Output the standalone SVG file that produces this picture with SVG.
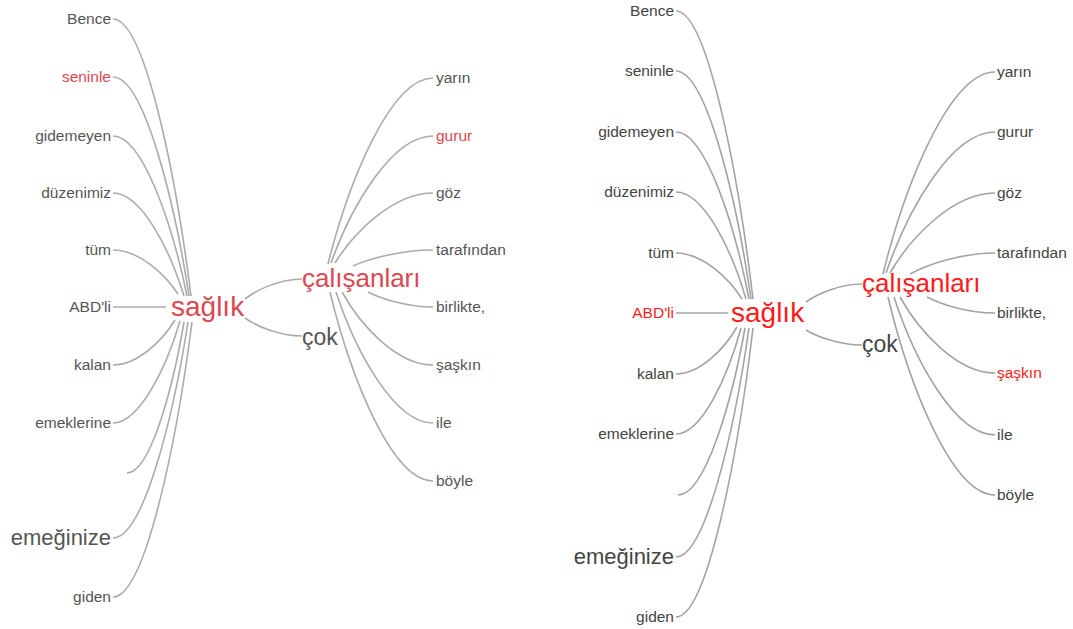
<svg xmlns="http://www.w3.org/2000/svg" width="1073" height="629" viewBox="0 0 1073 629">
<style>
.t{font-family:"Liberation Sans",Arial,sans-serif;font-size:15.5px}
.e{text-anchor:end}
.lg{fill:#555}
.lr{fill:#dc4852}
.rg{fill:#444}
.rr{fill:#ff1a1a}
.lc path{fill:none;stroke:#ababab;stroke-width:1.6}
.rc path{fill:none;stroke:#a3a3a3;stroke-width:1.6}
.big{font-size:28px}
.mid{font-size:26px}
.cok{font-size:23px}
.em{font-size:22px}
</style>
<rect width="1073" height="629" fill="#fff"/>
<!-- LEFT TREE connectors -->
<g id="connectors-left" class="lc">
<path d="M113,19 C144.2,19 175.4,171.35 191,296"/>
<path d="M113,77 C143.4,77 173.8,197.45 189,296"/>
<path d="M113,136 C142.6,136 172.2,224 187,296"/>
<path d="M113,193 C141.4,193 169.8,249.65 184,296"/>
<path d="M113,250 C139,250 165,274.2 178,294"/>
<path d="M113,307 L166,307"/>
<path d="M113,365 C137.8,365 162.6,340.25 175,320"/>
<path d="M113,423 C139.8,423 166.6,366.9 180,321"/>
<path d="M127,473 C149.8,473 172.6,390 184,322"/>
<path d="M113,538 C143,538 173,419.2 188,322"/>
<path d="M113,597 C144.6,597 176.2,445.75 192,322"/>
<path d="M245,299 C256.4,290 279.2,279 302,279"/>
<path d="M245,318 C256.4,326.1 279.2,336 302,336"/>
<path d="M328,264 C349,180.3 391,78 433,78"/>
<path d="M331,263 C351.4,205.85 392.2,136 433,136"/>
<path d="M335,263 C354.6,231.5 393.8,193 433,193"/>
<path d="M353,266 C369,258.8 401,250 433,250"/>
<path d="M368,292 C381,298.75 407,307 433,307"/>
<path d="M342,292 C360.2,324.85 396.6,365 433,365"/>
<path d="M336,292 C355.4,350.95 394.2,423 433,423"/>
<path d="M330,292 C350.6,377 391.8,481 433,481"/>
</g>
<!-- LEFT TREE nodes -->
<g id="l-bence"><text class="t e lg" x="111" y="24">Bence</text></g>
<g id="l-seninle"><text class="t e lr" x="111" y="82">seninle</text></g>
<g id="l-gidemeyen"><text class="t e lg" x="111" y="141">gidemeyen</text></g>
<g id="l-duzenimiz"><text class="t e lg" x="111" y="198">düzenimiz</text></g>
<g id="l-tum"><text class="t e lg" x="111" y="255">tüm</text></g>
<g id="l-abdli"><text class="t e lg" x="111" y="312">ABD'li</text></g>
<g id="l-kalan"><text class="t e lg" x="111" y="370">kalan</text></g>
<g id="l-emeklerine"><text class="t e lg" x="111" y="428">emeklerine</text></g>
<g id="l-emeginize"><text class="t e lg em" x="111" y="545">emeğinize</text></g>
<g id="l-giden"><text class="t e lg" x="111" y="602">giden</text></g>
<g id="l-saglik"><text class="t lr big" x="171" y="316">sağlık</text></g>
<g id="l-calisanlari"><text class="t lr mid" x="302" y="287">çalışanları</text></g>
<g id="l-cok"><text class="t lg cok" x="302" y="345">çok</text></g>
<g id="l-yarin"><text class="t lg" x="436" y="83">yarın</text></g>
<g id="l-gurur"><text class="t lr" x="436" y="141">gurur</text></g>
<g id="l-goz"><text class="t lg" x="436" y="198">göz</text></g>
<g id="l-tarafindan"><text class="t lg" x="436" y="255">tarafından</text></g>
<g id="l-birlikte"><text class="t lg" x="436" y="312">birlikte,</text></g>
<g id="l-saskin"><text class="t lg" x="436" y="370">şaşkın</text></g>
<g id="l-ile"><text class="t lg" x="436" y="428">ile</text></g>
<g id="l-boyle"><text class="t lg" x="436" y="486">böyle</text></g>
<!-- RIGHT TREE connectors -->
<g id="connectors-right" class="rc">
<path d="M676,11 C706.8,11 737.6,169.4 753,299"/>
<path d="M676,71 C706,71 736,196.4 751,299"/>
<path d="M676,132 C705.2,132 734.4,223.9 749,299"/>
<path d="M676,192 C704,192 732,250.9 746,299"/>
<path d="M676,253 C702.4,253 728.8,278.3 742,299"/>
<path d="M676,313 L728,313"/>
<path d="M676,374 C700.4,374 724.8,348.2 737,327"/>
<path d="M676,434 C702,434 728,375.7 741,328"/>
<path d="M678,495 C704.8,495 731.6,403.2 745,328"/>
<path d="M676,557 C705.2,557 734.4,431 749,328"/>
<path d="M676,617 C706.8,617 737.6,458 753,328"/>
<path d="M806,302 C817.2,293.9 839.6,284 862,284"/>
<path d="M806,330 C817.2,336.75 839.6,345 862,345"/>
<path d="M883,274 C905.4,183.1 950.2,72 995,72"/>
<path d="M886,273 C907.8,209.5 951.4,132 995,132"/>
<path d="M890,273 C911,237 953,193 995,193"/>
<path d="M910,274 C927,264.6 961,253 995,253"/>
<path d="M927,297 C940.6,304.2 967.8,313 995,313"/>
<path d="M900,297 C919,331.2 957,373 995,373"/>
<path d="M894,297 C914.2,359.1 954.6,435 995,435"/>
<path d="M888,297 C909.4,386.1 952.2,495 995,495"/>
</g>
<!-- RIGHT TREE nodes -->
<g id="r-bence"><text class="t e rg" x="674" y="16">Bence</text></g>
<g id="r-seninle"><text class="t e rg" x="674" y="76">seninle</text></g>
<g id="r-gidemeyen"><text class="t e rg" x="674" y="137">gidemeyen</text></g>
<g id="r-duzenimiz"><text class="t e rg" x="674" y="197">düzenimiz</text></g>
<g id="r-tum"><text class="t e rg" x="674" y="258">tüm</text></g>
<g id="r-abdli"><text class="t e rr" x="674" y="318">ABD'li</text></g>
<g id="r-kalan"><text class="t e rg" x="674" y="379">kalan</text></g>
<g id="r-emeklerine"><text class="t e rg" x="674" y="439">emeklerine</text></g>
<g id="r-emeginize"><text class="t e rg em" x="674" y="564">emeğinize</text></g>
<g id="r-giden"><text class="t e rg" x="674" y="622">giden</text></g>
<g id="r-saglik"><text class="t rr big" x="731" y="322">sağlık</text></g>
<g id="r-calisanlari"><text class="t rr mid" x="862" y="292">çalışanları</text></g>
<g id="r-cok"><text class="t rg cok" x="862" y="352">çok</text></g>
<g id="r-yarin"><text class="t rg" x="997" y="77">yarın</text></g>
<g id="r-gurur"><text class="t rg" x="997" y="137">gurur</text></g>
<g id="r-goz"><text class="t rg" x="997" y="198">göz</text></g>
<g id="r-tarafindan"><text class="t rg" x="997" y="258">tarafından</text></g>
<g id="r-birlikte"><text class="t rg" x="997" y="318">birlikte,</text></g>
<g id="r-saskin"><text class="t rr" x="997" y="378">şaşkın</text></g>
<g id="r-ile"><text class="t rg" x="997" y="440">ile</text></g>
<g id="r-boyle"><text class="t rg" x="997" y="500">böyle</text></g>
</svg>
